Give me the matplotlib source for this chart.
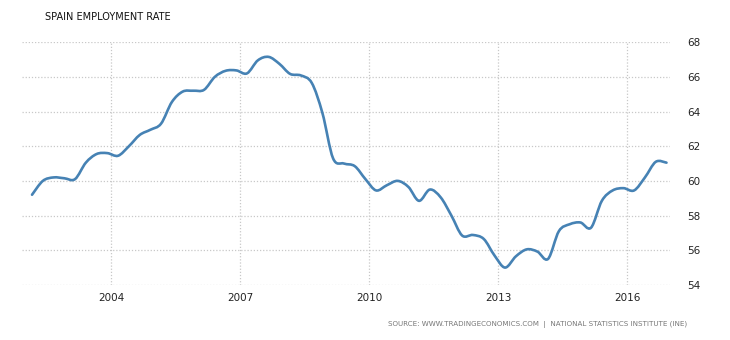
import matplotlib
matplotlib.use("Agg")
import matplotlib.pyplot as plt
import matplotlib.dates as mdates
from matplotlib.path import Path
from matplotlib.patches import PathPatch
import numpy as np
import pandas as pd

# quarterly observations, 2002 Q1 .. 2016 Q4
quarters = pd.date_range("2002-03-01", "2016-12-01", freq="3MS")
rate = [59.2, 60.0, 60.2, 60.15, 60.1, 61.05, 61.55, 61.6, 61.45, 62.0,
        62.65, 62.95, 63.3, 64.55, 65.15, 65.2, 65.25, 66.0, 66.35, 66.37,
        66.2, 66.95, 67.15, 66.75, 66.17, 66.08, 65.65, 63.9, 61.3, 61.0,
        60.85, 60.1, 59.45, 59.75, 60.0, 59.65, 58.85, 59.5, 59.05, 58.0,
        56.85, 56.88, 56.65, 55.7, 55.0, 55.65, 56.05, 55.92, 55.5, 57.1,
        57.5, 57.6, 57.3, 58.85, 59.45, 59.58, 59.45, 60.2, 61.1, 61.05]

year_ticks = ["2004", "2007", "2010", "2013", "2016"]
y_ticks = [54, 56, 58, 60, 62, 64, 66, 68]

fig = plt.figure(figsize=(7.3, 3.4), dpi=100)
ax = fig.add_axes([0.030, 0.162, 0.888, 0.714])

# smooth line through the points (cubic bezier, catmull-rom style handles)
x = mdates.date2num(quarters)
y = np.array(rate)
verts = [(x[0], y[0])]
codes = [Path.MOVETO]
for i in range(len(x) - 1):
    i0 = max(i - 1, 0)
    i3 = min(i + 2, len(x) - 1)
    c1 = (x[i] + (x[i + 1] - x[i0]) / 6, y[i] + (y[i + 1] - y[i0]) / 6)
    c2 = (x[i + 1] - (x[i3] - x[i]) / 6, y[i + 1] - (y[i3] - y[i]) / 6)
    verts += [c1, c2, (x[i + 1], y[i + 1])]
    codes += [Path.CURVE4] * 3
ax.add_patch(PathPatch(Path(verts, codes), facecolor="none",
                       edgecolor="#4682b4", linewidth=1.9,
                       joinstyle="round", capstyle="round"))

ax.set_xlim(pd.Timestamp("2001-12-05"), pd.Timestamp("2017-01-01"))
ax.set_ylim(54, 68)
ax.set_xticks([pd.Timestamp(yr + "-01-01") for yr in year_ticks])
ax.xaxis.set_major_formatter(mdates.DateFormatter("%Y"))
ax.set_yticks(y_ticks)

ax.yaxis.tick_right()
ax.tick_params(axis="both", length=0, labelsize=7.5, colors="#222222")
ax.tick_params(axis="y", pad=12)
ax.tick_params(axis="x", pad=6)
for s in ax.spines.values():
    s.set_visible(False)
ax.grid(True, color="#c8c8c8", linestyle=(0, (1, 1.5)), linewidth=0.9)
ax.set_axisbelow(True)

fig.text(45 / 730, 1 - 17 / 340, "SPAIN EMPLOYMENT RATE", fontsize=7,
         color="#111111", va="center", ha="left")
fig.text(687 / 730, 1 - 325 / 340,
         "SOURCE: WWW.TRADINGECONOMICS.COM  |  NATIONAL STATISTICS INSTITUTE (INE)",
         fontsize=5.1, color="#777777", va="center", ha="right")

fig.savefig("out.png", dpi=100)
